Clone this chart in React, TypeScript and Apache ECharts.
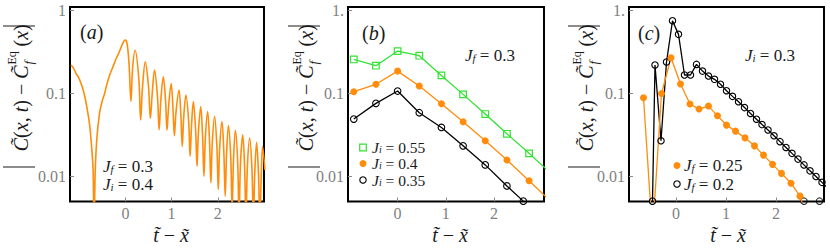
import React, { useEffect, useRef } from 'react';
import * as echarts from 'echarts';

const SERIF = 'Liberation Serif';
const ORANGE = '#ff8c0a';
const GREEN = '#33e233';
const BLACK = '#000000';
const INK = '#1a1a1a';
const GRAY = '#7f7f7f';

// ---------- panel (a): Jf = 0.3, Ji = 0.4 ----------
const aX = [
  -1.18, -1.13, -1.07, -1.02, -0.99, -0.93, -0.88, -0.83, -0.78, -0.74, -0.7, -0.68, -0.655, -0.62, -0.56, -0.5,
  -0.45, -0.4, -0.34, -0.27, -0.2, -0.14, -0.09, -0.04, -0.01, 0.02, 0.05, 0.08, 0.12, 0.155,
  0.21, 0.29, 0.33, 0.37, 0.43, 0.5, 0.54, 0.58, 0.63, 0.695, 0.73, 0.765, 0.82, 0.87, 0.9, 0.935,
  0.99, 1.03, 1.06, 1.095, 1.16, 1.2, 1.23, 1.26, 1.31, 1.37, 1.4, 1.43, 1.47, 1.52, 1.55, 1.58,
  1.63, 1.67, 1.7, 1.73, 1.78, 1.82, 1.85, 1.88, 1.93, 1.98, 2.01, 2.04, 2.09, 2.13, 2.16, 2.19,
  2.23, 2.28, 2.31, 2.34, 2.38, 2.43, 2.46, 2.49, 2.54, 2.58, 2.61, 2.64, 2.69, 2.74, 2.77, 2.8,
  2.84, 2.88, 2.91, 2.94, 2.97, 3.02,
];
const aY = [
  0.22, 0.205, 0.174, 0.158, 0.145, 0.118, 0.092, 0.066, 0.044, 0.026, 0.012, 0.002, 0.011, 0.028, 0.058, 0.082,
  0.1, 0.13, 0.167, 0.21, 0.264, 0.31, 0.364, 0.42, 0.44, 0.43, 0.35, 0.22, 0.08, 0.2,
  0.332, 0.15, 0.048, 0.12, 0.24, 0.12, 0.05, 0.1, 0.191, 0.09, 0.0365, 0.08, 0.159, 0.08, 0.036, 0.07,
  0.132, 0.065, 0.031, 0.06, 0.11, 0.055, 0.023, 0.05, 0.096, 0.045, 0.0175, 0.04, 0.08, 0.036, 0.0133, 0.034,
  0.0695, 0.031, 0.0101, 0.029, 0.0605, 0.027, 0.0084, 0.025, 0.053, 0.023, 0.007, 0.022, 0.046, 0.02, 0.0058, 0.019,
  0.041, 0.017, 0.004, 0.016, 0.036, 0.015, 0.003, 0.014, 0.0318, 0.013, 0.003, 0.013, 0.029, 0.012, 0.003, 0.011,
  0.0258, 0.011, 0.003, 0.01, 0.023, 0.012,
];

// ---------- panel (b): Jf = 0.3 ----------
const bX = [-0.91, -0.45, 0, 0.45, 0.91, 1.36, 1.82, 2.27, 2.73, 3.18];
const bGreen = [0.257, 0.216, 0.324, 0.285, 0.165, 0.0975, 0.0565, 0.0327, 0.019, 0.011];
const bOrange = [0.105, 0.129, 0.186, 0.123, 0.0752, 0.0456, 0.0269, 0.0158, 0.0089, 0.005];
const bBlackX = [-0.91, -0.45, 0, 0.45, 0.91, 1.36, 1.82, 2.27, 2.61];
const bBlack = [0.0492, 0.076, 0.107, 0.0586, 0.039, 0.0234, 0.0138, 0.0077, 0.00505];

// ---------- panel (c): Ji = 0.3 ----------
const cOrangeX = [-0.65, -0.47, -0.29, -0.1, 0.09, 0.28, 0.46, 0.65, 0.83, 1.01, 1.19, 1.38, 1.57, 1.75, 1.93, 2.11, 2.3, 2.48, 2.67];
const cOrange = [0.089, 0.002, 0.1, 0.269, 0.13, 0.0745, 0.065, 0.0705, 0.0538, 0.0416, 0.0352, 0.0292, 0.0234, 0.0181, 0.014, 0.0109, 0.0083, 0.0058, 0.0025];
const cBlackX = [
  -0.47, -0.42, -0.3, -0.19, -0.07, 0.05, 0.17, 0.29, 0.41, 0.53, 0.65, 0.77, 0.89, 1.01, 1.13, 1.25,
  1.37, 1.49, 1.61, 1.72, 1.84, 1.96, 2.08, 2.2, 2.32, 2.44, 2.56, 2.68, 2.8, 2.92, 3.04,
];
const cBlack = [
  0.00505, 0.22, 0.0269, 0.239, 0.751, 0.515, 0.167, 0.167, 0.224, 0.186, 0.162, 0.148, 0.129, 0.108, 0.0923, 0.0794,
  0.0676, 0.0575, 0.049, 0.0422, 0.0363, 0.0309, 0.0263, 0.0224, 0.019, 0.0162, 0.0138, 0.0117, 0.01, 0.0085, 0.0072,
];
const cEdgeX = [2.56, 2.87];
const cEdgeY = [0.00505, 0.00505];

// ---------- axes ----------
const xTicks = [0, 1, 2];
const yTicks = [0.01, 0.1, 1];
const yLabelsA = ['0.01', '0.1', '1'];
const yLabelsBC = ['0.01', '0.1', '1.'];
const xRanges = [
  [-1.2, 3.0],
  [-1.03, 3.04],
  [-0.94, 2.96],
];
const yRange = [0.005, 1.1];

const zip = (xs: number[], ys: number[]) => xs.map((x, i) => [x, ys[i]]);

const rich: any = {
  i: { fontFamily: SERIF, fontStyle: 'italic', fontSize: 17, fill: INK, color: INK, lineHeight: 16 },
  r: { fontFamily: SERIF, fontSize: 17, fill: INK, color: INK, lineHeight: 16 },
  s: { fontFamily: SERIF, fontStyle: 'italic', fontSize: 11, fill: INK, color: INK, lineHeight: 7, verticalAlign: 'bottom' },
  li: { fontFamily: SERIF, fontStyle: 'italic', fontSize: 15.5, fill: INK, color: INK, lineHeight: 14 },
  lr: { fontFamily: SERIF, fontSize: 15.5, fill: INK, color: INK, lineHeight: 14 },
  ls: { fontFamily: SERIF, fontStyle: 'italic', fontSize: 10, fill: INK, color: INK, lineHeight: 6, verticalAlign: 'bottom' },
  c: { fontFamily: SERIF, fontStyle: 'italic', fontSize: 20, fill: INK, color: INK, lineHeight: 22 },
  t: { fontFamily: SERIF, fontSize: 20, fill: INK, color: INK, lineHeight: 22 },
};

const jText = (sub: string, val: string) => `{i|J}{s|${sub}}{r| = ${val}}`;
const jLegend = (sub: string, val: string) => `{li|J}{ls|${sub}}{lr| = ${val}}`;

function txt(x: number, y: number, text: string, align = 'left') {
  return {
    type: 'text',
    x,
    y,
    z: 100,
    silent: true,
    style: {
      text,
      rich,
      font: `17px ${SERIF}`,
      fill: INK,
      align,
      textAlign: align,
      verticalAlign: 'middle',
      textVerticalAlign: 'middle',
    },
  };
}

function yTitle(cx: number, cy: number) {
  const plain = (x: number, y: number, text: string, font: string) => ({
    type: 'text',
    x,
    y,
    style: { text, font, fill: INK, align: 'left', textAlign: 'left', verticalAlign: 'middle', textVerticalAlign: 'middle' },
  });
  return {
    type: 'group',
    x: cx,
    y: cy,
    rotation: Math.PI / 2,
    silent: true,
    z: 100,
    children: [
      { type: 'line', shape: { x1: -70.5, y1: -18, x2: -70.5, y2: 14 }, style: { stroke: INK, lineWidth: 1 } },
      { type: 'line', shape: { x1: 70.5, y1: -18, x2: 70.5, y2: 14 }, style: { stroke: INK, lineWidth: 1 } },
      {
        type: 'text',
        x: 31,
        y: 0,
        style: {
          text: '{c|C\u0303}{t|(}{c|x}{t|, }{c|t}{t|) \u2212 }{c|C\u0303}',
          rich,
          font: `20px ${SERIF}`,
          align: 'right',
          textAlign: 'right',
          verticalAlign: 'middle',
          textVerticalAlign: 'middle',
        },
      },
      plain(32, 7, 'f', `italic 13px ${SERIF}`),
      plain(32, -9, 'Eq', `12px ${SERIF}`),
      {
        type: 'text',
        x: 50,
        y: 0,
        style: {
          text: '{t|(}{c|x}{t|)}',
          rich,
          font: `20px ${SERIF}`,
          align: 'left',
          textAlign: 'left',
          verticalAlign: 'middle',
          textVerticalAlign: 'middle',
        },
      },
    ],
  };
}

function xTitle(cx: number, cy: number) {
  return {
    type: 'text',
    x: cx,
    y: cy,
    z: 100,
    silent: true,
    style: {
      text: '{c|t\u0303}{t| \u2212 }{c|x\u0303}',
      rich,
      font: `20px ${SERIF}`,
      align: 'center',
      textAlign: 'center',
      verticalAlign: 'middle',
      textVerticalAlign: 'middle',
    },
  };
}

function panelLabel(x: number, y: number, letter: string) {
  return {
    type: 'text',
    x,
    y,
    z: 100,
    silent: true,
    style: {
      text: `{t|(}{c|${letter}}{t|)}`,
      rich,
      font: `20px ${SERIF}`,
      align: 'left',
      textAlign: 'left',
      verticalAlign: 'middle',
      textVerticalAlign: 'middle',
    },
  };
}

const openCircle = (cx: number, cy: number) => ({
  type: 'circle',
  z: 100,
  shape: { cx, cy, r: 3.2 },
  style: { fill: 'none', stroke: BLACK, lineWidth: 1.1 },
});
const dot = (cx: number, cy: number) => ({
  type: 'circle',
  z: 100,
  shape: { cx, cy, r: 3.5 },
  style: { fill: ORANGE },
});
const openSquare = (cx: number, cy: number) => ({
  type: 'rect',
  z: 100,
  shape: { x: cx - 3.3, y: cy - 3.3, width: 6.6, height: 6.6 },
  style: { fill: 'none', stroke: GREEN, lineWidth: 1.2 },
});

export default function App() {
  const ref = useRef<HTMLDivElement>(null);

  useEffect(() => {
    if (!ref.current) return;
    const chart = echarts.init(ref.current, null, { renderer: 'svg' });

    const grids = [
      { left: 70, width: 194 },
      { left: 348, width: 196 },
      { left: 629, width: 195 },
    ].map((g) => ({
      ...g,
      top: 7,
      height: 194.5,
      show: true,
      borderColor: '#000',
      borderWidth: 2,
      backgroundColor: 'rgba(0,0,0,0)',
      containLabel: false,
    }));

    const xAxes = xRanges.map((r, i) => ({
      type: 'value',
      gridIndex: i,
      position: 'bottom',
      min: r[0],
      max: r[1],
      axisLine: { show: false, onZero: false },
      splitLine: { show: false },
      axisTick: { show: true, inside: true, length: 4, customValues: xTicks, lineStyle: { color: '#8a8a8a', width: 1 } },
      axisLabel: { customValues: xTicks, color: GRAY, fontFamily: SERIF, fontSize: 16, margin: 4 },
    }));

    const yAxes = [yLabelsA, yLabelsBC, yLabelsBC].map((labels, i) => ({
      type: 'log',
      logBase: 10,
      gridIndex: i,
      position: 'left',
      min: yRange[0],
      max: yRange[1],
      axisLine: { show: false, onZero: false },
      splitLine: { show: false },
      axisTick: { show: true, inside: true, length: 4, customValues: yTicks, lineStyle: { color: '#8a8a8a', width: 1 } },
      axisLabel: {
        customValues: yTicks,
        color: GRAY,
        fontFamily: SERIF,
        fontSize: 16,
        margin: 4,
        formatter: (v: number) => {
          const k = yTicks.findIndex((t) => Math.abs(Math.log10(t) - Math.log10(v)) < 1e-6);
          return k >= 0 ? labels[k] : '';
        },
      },
    }));

    const openItem = (c: string, w: number) => ({ color: 'rgba(0,0,0,0)', borderColor: c, borderWidth: w });

    const series: any[] = [
      {
        type: 'line',
        xAxisIndex: 0,
        yAxisIndex: 0,
        data: zip(aX, aY),
        symbol: 'none',
        showSymbol: false,
        smooth: 0.35,
        clip: true,
        lineStyle: { color: ORANGE, width: 1.6 },
      },
      {
        type: 'line',
        xAxisIndex: 1,
        yAxisIndex: 1,
        data: zip(bX, bGreen),
        symbol: 'rect',
        symbolSize: 6.6,
        clip: true,
        lineStyle: { color: GREEN, width: 1.3 },
        itemStyle: openItem(GREEN, 1.2),
      },
      {
        type: 'line',
        xAxisIndex: 1,
        yAxisIndex: 1,
        data: zip(bX, bOrange),
        symbol: 'circle',
        symbolSize: 7,
        clip: true,
        lineStyle: { color: ORANGE, width: 1.3 },
        itemStyle: { color: ORANGE, borderWidth: 0 },
      },
      {
        type: 'line',
        xAxisIndex: 1,
        yAxisIndex: 1,
        data: zip(bBlackX, bBlack),
        symbol: 'circle',
        symbolSize: 6.6,
        clip: true,
        lineStyle: { color: BLACK, width: 1.3 },
        itemStyle: openItem(BLACK, 1.1),
      },
      {
        type: 'line',
        xAxisIndex: 2,
        yAxisIndex: 2,
        data: zip(cBlackX, cBlack),
        symbol: 'circle',
        symbolSize: 6.4,
        clip: true,
        lineStyle: { color: BLACK, width: 1.3 },
        itemStyle: openItem(BLACK, 1.1),
      },
      {
        type: 'line',
        xAxisIndex: 2,
        yAxisIndex: 2,
        data: zip(cOrangeX, cOrange),
        symbol: 'circle',
        symbolSize: 7,
        clip: true,
        lineStyle: { color: ORANGE, width: 1.3 },
        itemStyle: { color: ORANGE, borderWidth: 0 },
      },
      {
        type: 'scatter',
        xAxisIndex: 2,
        yAxisIndex: 2,
        data: zip(cEdgeX, cEdgeY),
        symbol: 'circle',
        symbolSize: 6.4,
        clip: true,
        itemStyle: openItem(BLACK, 1.1),
      },
    ];

    const graphic: any[] = [
      yTitle(21, 96.5),
      yTitle(306, 96.5),
      yTitle(586, 96.5),
      xTitle(171, 235),
      xTitle(450, 235),
      xTitle(728, 235),
      panelLabel(80, 32, 'a'),
      panelLabel(362, 33, 'b'),
      panelLabel(638, 33, 'c'),
      txt(103, 166, jText('f', '0.3')),
      txt(103, 184, jText('i', '0.4')),
      txt(465, 55, jText('f', '0.3')),
      openSquare(363, 147.5),
      txt(372, 147, jLegend('i', '0.55')),
      dot(363, 163.5),
      txt(372, 163.5, jLegend('i', '0.4')),
      openCircle(363, 180),
      txt(372, 180, jLegend('i', '0.35')),
      txt(745, 55, jText('i', '0.3')),
      dot(677, 165.5),
      txt(684, 165.5, jText('f', '0.25')),
      openCircle(677, 184),
      txt(684, 184, jText('f', '0.2')),
    ];

    chart.setOption({
      animation: false,
      backgroundColor: '#ffffff',
      textStyle: { fontFamily: SERIF },
      grid: grids,
      xAxis: xAxes,
      yAxis: yAxes,
      series,
      graphic,
    });

    return () => chart.dispose();
  }, []);

  return <div ref={ref} style={{ position: 'absolute', left: 0, top: 0, width: 830, height: 249 }} />;
}
